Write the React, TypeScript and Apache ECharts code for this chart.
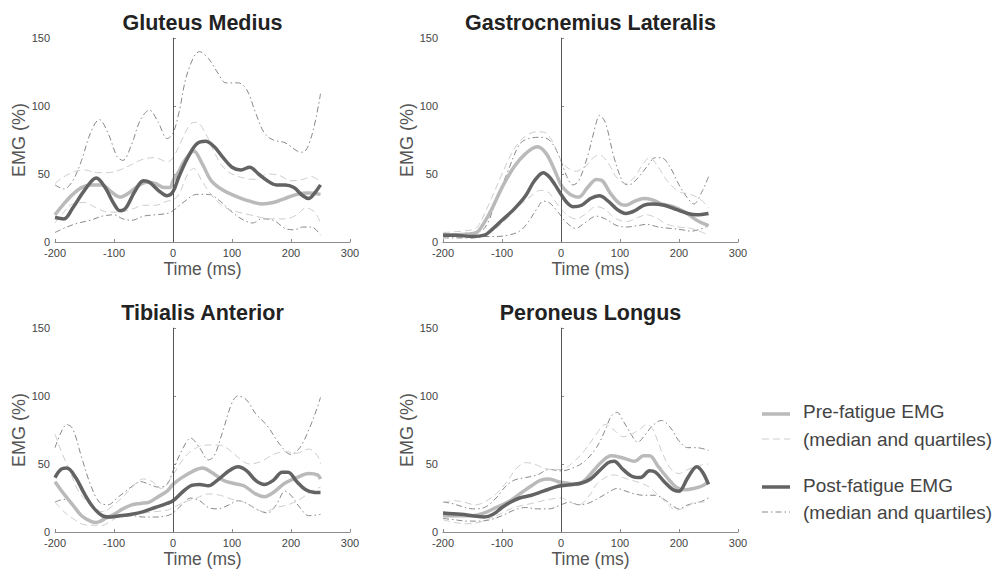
import React, { useEffect, useRef } from "react";
import * as echarts from "echarts";

// ---------- Data ([time ms, EMG %]) ----------
const titles = ["Gluteus Medius", "Gastrocnemius Lateralis", "Tibialis Anterior", "Peroneus Longus"];
const xTicks = [-200, -100, 0, 100, 200, 300];
const yTicks = [0, 50, 100, 150];

// Gluteus Medius
const gmPreMed = [[-200,20],[-185,28],[-170,35],[-155,40],[-140,42],[-120,42],[-105,37],[-90,33],[-75,36],[-60,41],[-45,44],[-30,43],[-15,40],[-5,40],[0,45],[10,52],[20,60],[35,67],[50,57],[65,45],[85,38],[105,34],[130,30],[150,28],[170,29],[190,32],[210,35],[230,36],[250,35]];
const gmPreQ3 = [[-200,43],[-185,48],[-165,52],[-150,53],[-130,51],[-110,51],[-90,53],[-70,57],[-50,61],[-30,62],[-10,59],[0,62],[15,75],[30,87],[40,88],[55,80],[70,66],[85,55],[100,50],[120,47],[140,46],[160,50],[180,49],[200,45],[220,46],[235,48],[250,44]];
const gmPreQ1 = [[-200,14],[-185,22],[-170,28],[-150,29],[-130,25],[-110,22],[-90,22],[-70,24],[-50,27],[-30,27],[-10,30],[0,31],[10,35],[25,50],[35,54],[50,44],[70,32],[90,25],[110,22],[130,20],[150,18],[170,17],[190,17],[210,20],[225,25],[240,22],[250,14]];
const gmPostMed = [[-200,18],[-185,17],[-170,25],[-150,38],[-130,47],[-115,40],[-100,28],[-90,23],[-80,25],[-65,37],[-50,45],[-40,44],[-25,38],[-10,34],[0,37],[10,48],[25,62],[40,72],[55,74],[70,70],[85,62],[100,55],[115,53],[130,55],[145,50],[160,45],[175,42],[190,42],[205,40],[220,34],[230,32],[240,36],[250,42]];
const gmPostQ3 = [[-200,42],[-185,39],[-170,45],[-155,60],[-140,80],[-125,90],[-110,80],[-95,63],[-85,60],[-70,72],[-55,90],[-40,97],[-25,88],[-10,76],[0,80],[10,95],[25,125],[45,140],[60,135],[75,125],[90,117],[110,117],[125,112],[140,95],[155,80],[170,75],[190,73],[210,67],[220,66],[235,78],[250,109]];
const gmPostQ1 = [[-200,7],[-180,11],[-160,14],[-140,16],[-120,19],[-100,20],[-85,17],[-70,16],[-50,19],[-30,20],[-10,21],[0,23],[20,30],[40,35],[60,35],[80,30],[100,22],[120,16],[135,14],[150,17],[170,16],[190,10],[205,9],[220,11],[235,11],[250,5]];

// Gastrocnemius Lateralis
const glPreMed = [[-200,5],[-150,6],[-140,8],[-120,22],[-100,40],[-80,55],[-60,65],[-40,70],[-25,65],[-10,52],[0,42],[10,37],[20,34],[30,33],[45,40],[60,46],[70,45],[85,35],[100,28],[110,27],[125,30],[140,32],[155,31],[170,28],[190,26],[210,22],[230,16],[250,12]];
const glPreQ3 = [[-200,7],[-150,9],[-140,12],[-120,30],[-100,50],[-80,68],[-60,78],[-40,81],[-25,80],[-10,70],[0,60],[10,55],[25,52],[40,55],[55,62],[65,64],[80,58],[95,47],[110,43],[125,48],[140,58],[150,62],[165,55],[180,45],[200,37],[220,35],[240,30],[250,25]];
const glPreQ1 = [[-200,4],[-150,4],[-130,5],[-110,10],[-90,18],[-70,27],[-50,34],[-35,38],[-20,36],[-5,27],[10,20],[25,17],[40,20],[60,26],[75,24],[90,18],[110,15],[130,18],[145,20],[160,18],[180,13],[200,11],[220,10],[240,7],[250,5]];
const glPostMed = [[-200,5],[-180,5],[-150,4],[-130,5],[-120,8],[-100,16],[-80,24],[-60,34],[-45,45],[-30,51],[-20,48],[-10,42],[0,35],[10,29],[20,26],[35,27],[50,32],[65,34],[80,30],[95,24],[110,21],[125,23],[140,27],[155,28],[175,27],[195,24],[215,21],[230,20],[250,21]];
const glPostQ3 = [[-200,6],[-150,7],[-130,10],[-110,30],[-90,52],[-70,72],[-55,76],[-35,77],[-20,75],[-5,65],[10,48],[20,42],[30,45],[45,63],[60,88],[65,93],[75,88],[90,62],[105,44],[115,42],[130,47],[145,55],[160,62],[170,62],[185,55],[200,42],[215,32],[225,28],[240,38],[250,48]];
const glPostQ1 = [[-200,3],[-150,3],[-130,4],[-110,4],[-90,5],[-70,8],[-55,15],[-40,25],[-30,30],[-20,29],[-5,22],[10,14],[25,10],[40,14],[60,19],[75,17],[95,12],[110,11],[130,12],[145,13],[165,11],[185,10],[205,9],[220,8],[240,10],[250,12]];

// Tibialis Anterior
const taPreMed = [[-200,37],[-185,28],[-170,20],[-155,12],[-140,8],[-130,7],[-115,10],[-100,13],[-85,17],[-70,20],[-55,21],[-40,22],[-25,26],[-10,30],[0,35],[15,40],[35,45],[50,47],[65,44],[85,38],[100,36],[120,34],[140,28],[155,26],[170,29],[190,36],[210,40],[230,43],[245,42],[250,39]];
const taPreQ3 = [[-200,72],[-190,60],[-175,45],[-160,30],[-140,20],[-120,15],[-100,20],[-80,28],[-60,37],[-50,39],[-35,37],[-20,32],[-10,36],[0,42],[20,55],[40,62],[60,64],[75,64],[90,62],[110,55],[130,50],[150,52],[170,57],[190,59],[210,58],[230,61],[245,56],[250,50]];
const taPreQ1 = [[-200,22],[-185,15],[-170,10],[-155,6],[-140,5],[-120,5],[-105,8],[-90,12],[-70,13],[-50,14],[-30,15],[-10,16],[0,18],[20,22],[40,25],[60,28],[80,27],[100,24],[120,22],[140,17],[155,15],[175,18],[195,20],[215,24],[235,30],[250,33]];
const taPostMed = [[-200,40],[-190,46],[-180,47],[-165,40],[-150,28],[-135,18],[-120,12],[-105,11],[-90,12],[-70,13],[-50,15],[-30,18],[-10,21],[0,23],[15,29],[30,34],[45,35],[60,34],[75,38],[95,45],[110,48],[125,45],[140,38],[155,35],[170,38],[185,44],[195,44],[210,37],[225,31],[240,29],[250,29]];
const taPostQ3 = [[-200,62],[-190,73],[-180,79],[-170,76],[-155,55],[-140,35],[-125,22],[-110,20],[-95,25],[-80,30],[-65,35],[-55,37],[-40,35],[-25,33],[-10,35],[0,45],[15,60],[30,69],[45,62],[60,53],[70,56],[85,75],[100,95],[110,100],[125,97],[140,87],[160,78],[180,65],[200,57],[215,62],[230,75],[245,92],[250,99]];
const taPostQ1 = [[-200,22],[-185,24],[-170,20],[-155,12],[-140,8],[-125,7],[-110,10],[-90,11],[-70,12],[-50,11],[-30,11],[-10,12],[0,14],[15,20],[30,25],[45,23],[60,18],[75,17],[95,20],[110,23],[125,21],[145,16],[160,14],[175,20],[190,30],[200,27],[215,18],[230,12],[250,13]];

// Peroneus Longus
const plPreMed = [[-200,12],[-170,12],[-150,12],[-130,14],[-110,18],[-90,22],[-70,28],[-50,34],[-35,38],[-20,39],[-5,37],[10,36],[25,35],[40,38],[55,45],[70,52],[85,56],[100,55],[115,53],[125,52],[140,56],[150,56],[165,48],[180,40],[195,33],[210,31],[225,32],[240,34],[250,37]];
const plPreQ3 = [[-200,22],[-180,23],[-165,22],[-145,20],[-130,22],[-110,28],[-90,38],[-75,47],[-60,51],[-45,50],[-30,47],[-15,46],[0,46],[20,51],[40,60],[60,72],[75,79],[90,75],[105,70],[120,72],[135,76],[145,79],[155,76],[170,60],[185,47],[200,43],[215,46],[235,49],[250,50]];
const plPreQ1 = [[-200,9],[-180,7],[-160,6],[-140,7],[-120,10],[-100,14],[-80,18],[-60,20],[-40,22],[-20,24],[0,25],[15,22],[30,20],[50,28],[60,35],[75,40],[90,42],[105,40],[120,38],[135,36],[150,33],[165,27],[180,21],[195,16],[210,18],[230,22],[250,22]];
const plPostMed = [[-200,14],[-170,13],[-150,12],[-130,11],[-115,13],[-100,18],[-85,22],[-70,25],[-50,27],[-30,30],[-10,33],[0,34],[20,35],[35,36],[50,39],[65,45],[80,51],[90,52],[105,46],[120,41],[135,40],[150,45],[160,44],[175,37],[190,31],[200,30],[215,40],[230,48],[240,44],[250,35]];
const plPostQ3 = [[-200,22],[-185,21],[-170,19],[-150,17],[-130,18],[-110,25],[-95,33],[-80,38],[-60,40],[-40,42],[-20,46],[0,45],[20,47],[40,52],[60,62],[75,75],[85,85],[95,88],[105,82],[120,71],[130,66],[140,70],[155,78],[170,82],[185,77],[200,67],[215,62],[230,62],[250,60]];
const plPostQ1 = [[-200,10],[-180,9],[-160,8],[-140,8],[-120,9],[-100,12],[-80,16],[-60,18],[-40,17],[-20,17],[0,20],[15,22],[30,20],[45,21],[60,24],[80,29],[95,32],[110,30],[125,28],[140,27],[160,27],[175,24],[190,19],[200,17],[215,20],[235,22],[250,25]];

const panels = [
  { pre: [gmPreMed, gmPreQ3, gmPreQ1], post: [gmPostMed, gmPostQ3, gmPostQ1] },
  { pre: [glPreMed, glPreQ3, glPreQ1], post: [glPostMed, glPostQ3, glPostQ1] },
  { pre: [taPreMed, taPreQ3, taPreQ1], post: [taPostMed, taPostQ3, taPostQ1] },
  { pre: [plPreMed, plPreQ3, plPreQ1], post: [plPostMed, plPostQ3, plPostQ1] },
];

const legendLabels = ["Pre-fatigue EMG", "(median and quartiles)", "Post-fatigue EMG", "(median and quartiles)"];

// ---------- Styling ----------
const FONT = "Liberation Sans, Arial, sans-serif";
const PRE_COLOR = "#bababa";
const PRE_Q_COLOR = "#cdcdcd";
const POST_COLOR = "#636363";
const POST_Q_COLOR = "#888888";
const DASH = [7, 4];
const DASHDOT = [6, 3, 1.5, 3];

const gridPos = [
  { left: 55, top: 38 },
  { left: 443, top: 38 },
  { left: 55, top: 328 },
  { left: 443, top: 328 },
];
const GW = 295;
const GH = 204;

export default function App() {
  const ref = useRef<HTMLDivElement>(null);

  useEffect(() => {
    if (!ref.current) return;
    const chart = echarts.init(ref.current, undefined, { renderer: "svg" });

    const grids = gridPos.map((g) => ({ left: g.left, top: g.top, width: GW, height: GH }));
    const xAxes = gridPos.map((_, i) => ({
      type: "value",
      gridIndex: i,
      min: xTicks[0],
      max: xTicks[xTicks.length - 1],
      interval: 100,
      name: "Time (ms)",
      nameLocation: "middle",
      nameGap: 18,
      nameTextStyle: { fontFamily: FONT, fontSize: 17.5, color: "#555" },
      axisLine: { show: true, lineStyle: { color: "#8c8c8c", width: 1 } },
      axisTick: { show: true, inside: true, length: 3, lineStyle: { color: "#8c8c8c" } },
      axisLabel: { fontFamily: FONT, fontSize: 11, color: "#444", margin: 5 },
      splitLine: { show: false },
    }));
    const yAxes = gridPos.map((_, i) => ({
      type: "value",
      gridIndex: i,
      min: yTicks[0],
      max: yTicks[yTicks.length - 1],
      interval: 50,
      name: "EMG (%)",
      nameLocation: "middle",
      nameGap: 26,
      nameTextStyle: { fontFamily: FONT, fontSize: 18, color: "#555" },
      axisLine: { show: true, lineStyle: { color: "#8c8c8c", width: 1 } },
      axisTick: { show: true, inside: true, length: 3, lineStyle: { color: "#8c8c8c" } },
      axisLabel: { fontFamily: FONT, fontSize: 11, color: "#444", margin: 5 },
      splitLine: { show: false },
    }));

    const series: any[] = [];
    panels.forEach((p, i) => {
      const mk = (data: number[][], color: string, width: number, type: any, z: number, extra: any = {}) => ({
        type: "line",
        xAxisIndex: i,
        yAxisIndex: i,
        data,
        smooth: 0.35,
        symbol: "none",
        z,
        lineStyle: { color, width, type },
        silent: true,
        ...extra,
      });
      series.push(
        mk(p.post[1], POST_Q_COLOR, 1, DASHDOT, 2, {
          markLine: {
            silent: true,
            symbol: "none",
            label: { show: false },
            lineStyle: { color: "#555", width: 1, type: "solid" },
            data: [{ xAxis: 0 }],
          },
        })
      );
      series.push(mk(p.post[2], POST_Q_COLOR, 1, DASHDOT, 2));
      series.push(mk(p.pre[1], PRE_Q_COLOR, 1, DASH, 2));
      series.push(mk(p.pre[2], PRE_Q_COLOR, 1, DASH, 2));
      series.push(mk(p.pre[0], PRE_COLOR, 3.5, "solid", 3));
      series.push(mk(p.post[0], POST_COLOR, 3.5, "solid", 4));
    });

    const titleGraphics = gridPos.map((g, i) => ({
      type: "text",
      x: g.left + GW / 2,
      y: g.top - 15,
      style: {
        text: titles[i],
        font: `bold 21.5px ${FONT}`,
        fill: "#222",
        textAlign: "center",
        textVerticalAlign: "middle",
      },
    }));

    const legY = [414, 439, 487, 512];
    const legendGraphics: any[] = [
      { type: "line", shape: { x1: 762, y1: legY[0], x2: 790, y2: legY[0] }, style: { stroke: PRE_COLOR, lineWidth: 3.5 } },
      { type: "line", shape: { x1: 762, y1: legY[1], x2: 790, y2: legY[1] }, style: { stroke: PRE_Q_COLOR, lineWidth: 1, lineDash: DASH } },
      { type: "line", shape: { x1: 762, y1: legY[2], x2: 790, y2: legY[2] }, style: { stroke: POST_COLOR, lineWidth: 3.5 } },
      { type: "line", shape: { x1: 762, y1: legY[3], x2: 790, y2: legY[3] }, style: { stroke: POST_Q_COLOR, lineWidth: 1, lineDash: DASHDOT } },
    ];
    const legTextY = [411, 439, 485, 512];
    legendLabels.forEach((t, k) => {
      legendGraphics.push({
        type: "text",
        x: 803,
        y: legTextY[k],
        style: { text: t, font: `19px ${FONT}`, fill: "#444", textAlign: "left", textVerticalAlign: "middle" },
      });
    });

    chart.setOption({
      animation: false,
      backgroundColor: "#ffffff",
      grid: grids,
      xAxis: xAxes,
      yAxis: yAxes,
      series,
      graphic: [...titleGraphics, ...legendGraphics],
    });

    return () => chart.dispose();
  }, []);

  return <div ref={ref} style={{ width: 995, height: 572, position: "absolute", left: 0, top: 0 }} />;
}
